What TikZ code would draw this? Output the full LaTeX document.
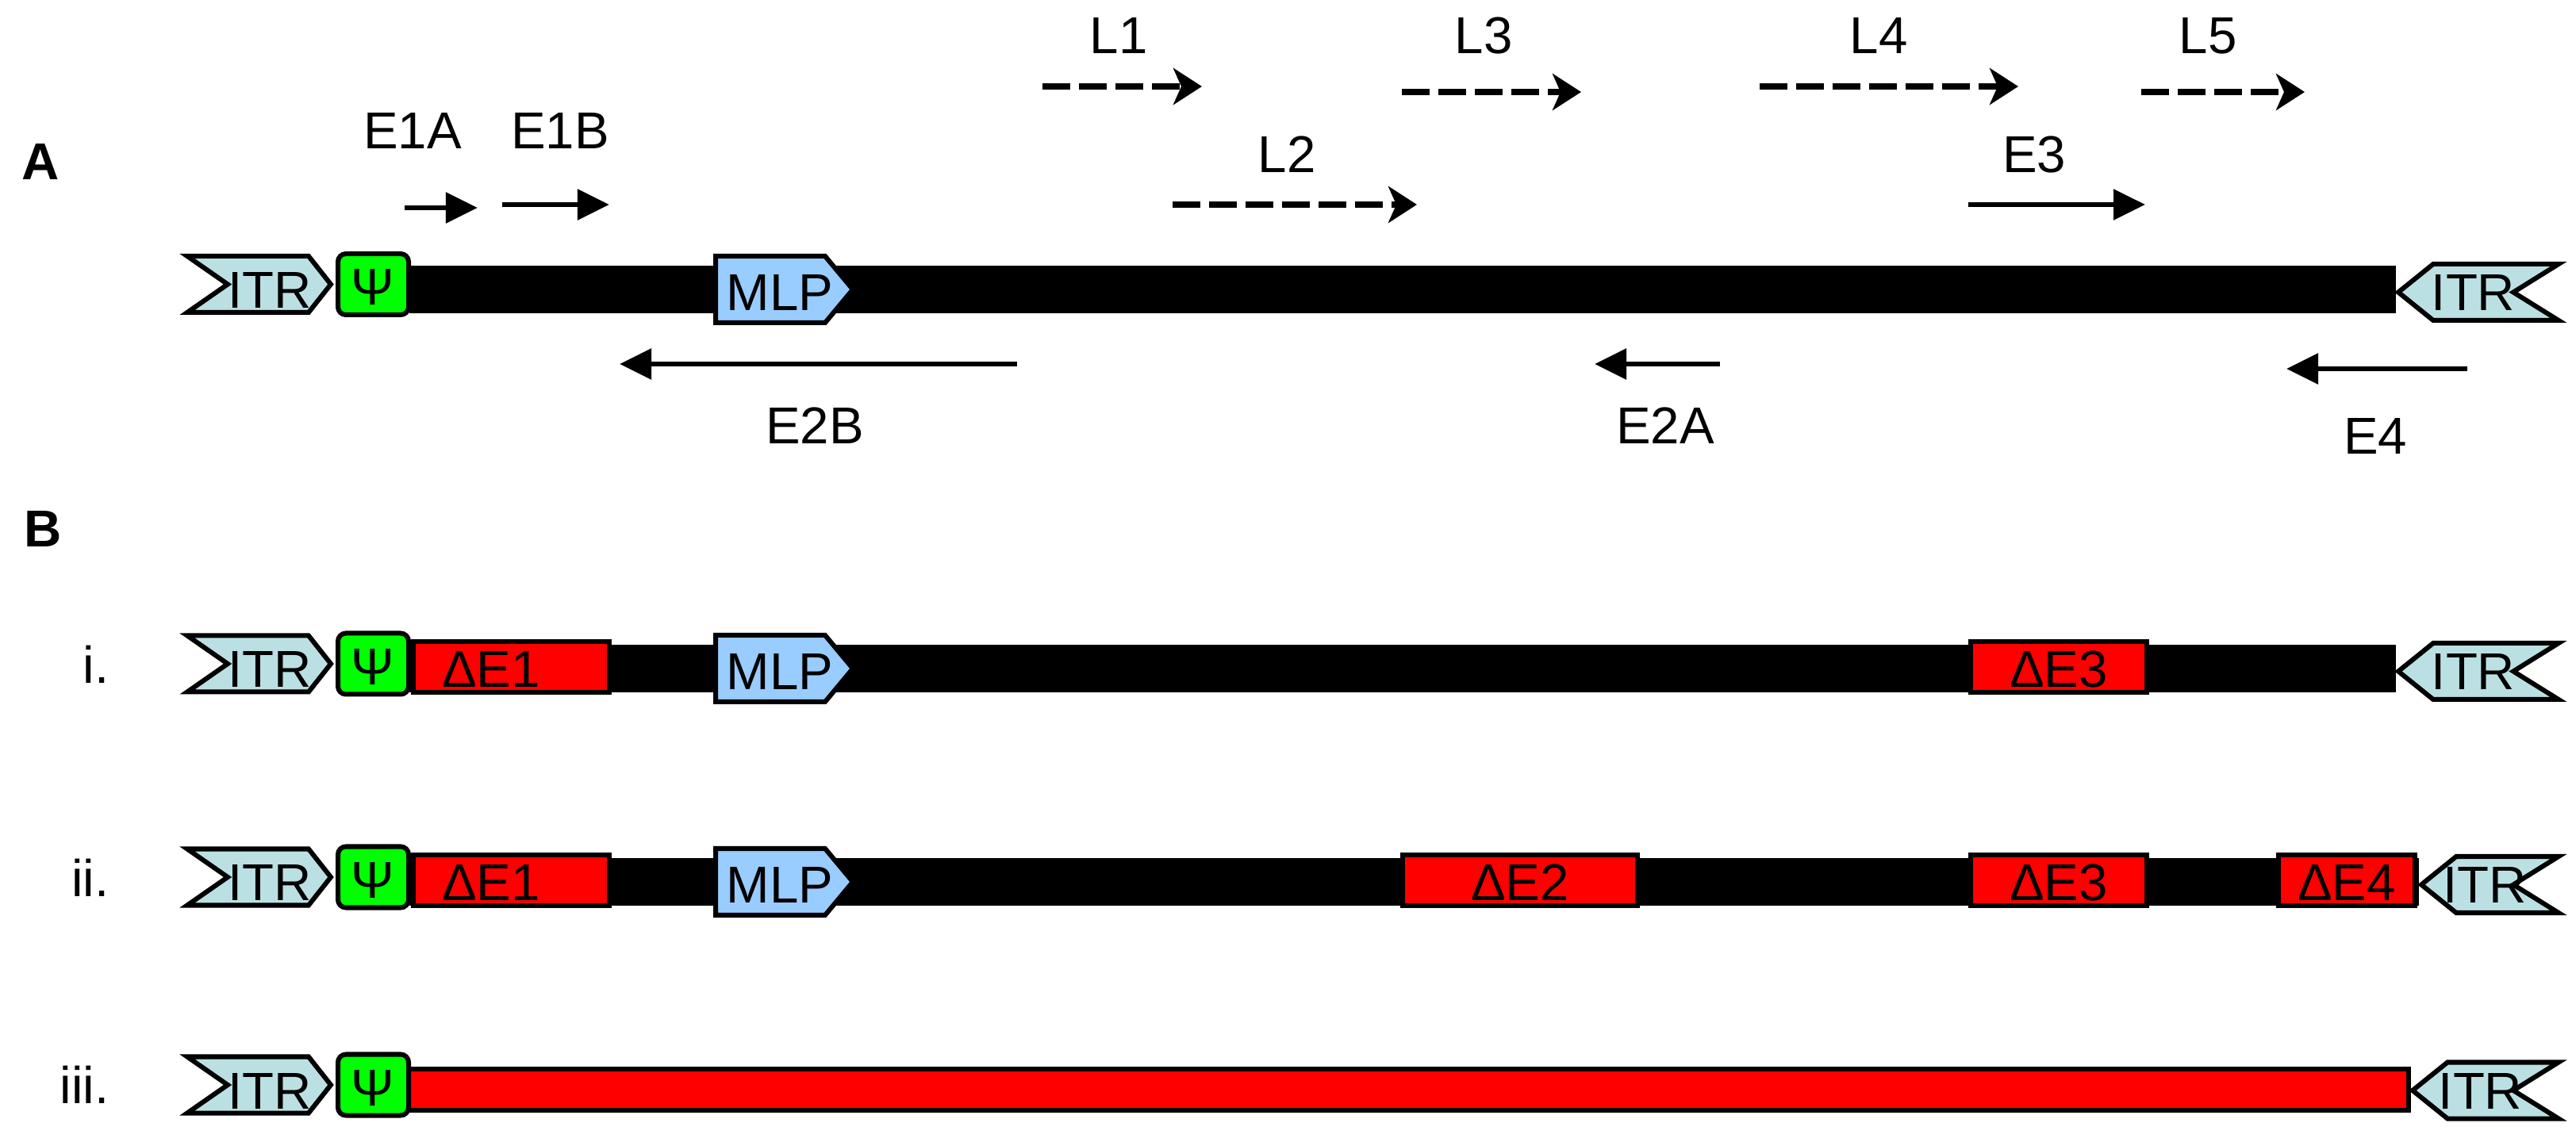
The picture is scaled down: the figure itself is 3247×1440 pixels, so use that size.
\documentclass[tikz,border=0pt]{standalone}
\usepackage{fontspec}
\setmainfont{Liberation Sans}
\usetikzlibrary{arrows.meta}
\definecolor{itrcol}{RGB}{187,224,227}
\definecolor{mlpcol}{RGB}{153,204,255}
\definecolor{psicol}{RGB}{0,255,0}
\definecolor{delcol}{RGB}{255,0,0}
\tikzset{
  txt/.style={inner sep=0pt, anchor=base, font=\fontsize{18.6pt}{22pt}\selectfont},
  outl/.style={draw=black, line width=0.06cm},
  solidarr/.style={line width=0.06cm, -{Triangle[length=0.40cm,width=0.38cm]}},
  dasharr/.style={line width=0.075cm, dash pattern=on 0.35cm off 0.11cm, -{Stealth[length=0.36cm,width=0.46cm,inset=0.1cm]}},
}
% left ITR: name, centre y
\newcommand{\ItrLeft}[2]{%
  \draw[outl, fill=itrcol] (236,#2-35.5) -- (389,#2-35.5) -- (417,#2) -- (389,#2+35.5) -- (236,#2+35.5) -- (287,#2) -- cycle;
  \node[txt] (#1) at (340,#2+30) {ITR};
}
% right ITR: name, tip x, centre y
\newcommand{\ItrRight}[3]{%
  \draw[outl, fill=itrcol] (#2+5,#3) -- (#2+49,#3-35.5) -- (3225,#3-35.5) -- (3168,#3) -- (3225,#3+35.5) -- (#2+49,#3+35.5) -- cycle;
  \node[txt] (#1) at ({(#2+49+3168)/2},#3+23.5) {ITR};
}
% packaging signal: name, centre y
\newcommand{\PsiBox}[2]{%
  \draw[outl, fill=psicol, rounded corners=0.1cm] (426,#2-38.5) rectangle (515,#2+38.5);
  \node[txt] (#1) at (470,#2+26.5) {Ψ};
}
% MLP: name, bar centre y
\newcommand{\MlpBox}[2]{%
  \draw[outl, fill=mlpcol] (902,#2-42) -- (1040,#2-42) -- (1075,#2) -- (1040,#2+42) -- (902,#2+42) -- cycle;
  \node[txt] (#1) at (983,#2+27) {MLP};
}
% deletion box: name, x1, x2, bar centre y, text x, text
\newcommand{\DelBox}[6]{%
  \draw[outl, fill=delcol] (#2+3,#4-34) rectangle (#3-3,#4+30);
  \node[txt] (#1) at (#5,#4+24) {#6};
}
\begin{document}
\begin{tikzpicture}[x=0.01cm,y=-0.01cm]
\useasboundingbox (0,0) rectangle (3247,1440);

% panel labels
\node[txt, anchor=base west, font=\fontsize{18.6pt}{22pt}\selectfont\bfseries] (pA) at (27,227) {A};
\node[txt, anchor=base west, font=\fontsize{18.6pt}{22pt}\selectfont\bfseries] (pB) at (30,690) {B};
\node[txt, anchor=base east] (ri) at (138,862) {i.};
\node[txt, anchor=base east] (rii) at (138,1131) {ii.};
\node[txt, anchor=base east] (riii) at (138,1391) {iii.};

% ---------- row A ----------
\fill[black] (516,335) rectangle (3020,395);
\ItrLeft{itrA1}{358.5}
\PsiBox{psiA}{358.5}
\MlpBox{mlpA}{365}
\ItrRight{itrA2}{3018}{368.5}

% transcript arrows
\coordinate (e1as) at (510,262);  \coordinate (e1ae) at (602,262);
\coordinate (e1bs) at (633,258);  \coordinate (e1be) at (768,258);
\coordinate (l1s) at (1314,109);  \coordinate (l1e) at (1515,109);
\coordinate (l3s) at (1767,116);  \coordinate (l3e) at (1993,116);
\coordinate (l4s) at (2218,109);  \coordinate (l4e) at (2544,109);
\coordinate (l5s) at (2699,116);  \coordinate (l5e) at (2905,116);
\coordinate (l2s) at (1478,258);  \coordinate (l2e) at (1786,258);
\coordinate (e3s) at (2481,258);  \coordinate (e3e) at (2704,258);
\coordinate (e2bs) at (1282,459); \coordinate (e2be) at (781,459);
\coordinate (e2as) at (2168,459); \coordinate (e2ae) at (2010,459);
\coordinate (e4s) at (3110,465);  \coordinate (e4e) at (2882,465);

\draw[solidarr] (e1as) -- (e1ae);
\draw[solidarr] (e1bs) -- (e1be);
\draw[dasharr] (l1s) -- (l1e);
\draw[dasharr] (l3s) -- (l3e);
\draw[dasharr] (l4s) -- (l4e);
\draw[dasharr] (l5s) -- (l5e);
\draw[dasharr] (l2s) -- (l2e);
\draw[solidarr] (e3s) -- (e3e);
\draw[solidarr] (e2bs) -- (e2be);
\draw[solidarr] (e2as) -- (e2ae);
\draw[solidarr] (e4s) -- (e4e);

\node[txt] (tE1A) at (520,188) {E1A};
\node[txt] (tE1B) at (706,188) {E1B};
\node[txt] (tL1) at (1410,68) {L1};
\node[txt] (tL3) at (1870,68) {L3};
\node[txt] (tL4) at (2368,68) {L4};
\node[txt] (tL5) at (2783,68) {L5};
\node[txt] (tL2) at (1622,218) {L2};
\node[txt] (tE3) at (2564,218) {E3};
\node[txt] (tE2B) at (1027,560) {E2B};
\node[txt] (tE2A) at (2099,560) {E2A};
\node[txt] (tE4) at (2994,573) {E4};

% ---------- row i ----------
\fill[black] (516,813) rectangle (3020,873);
\DelBox{dE1i}{518}{771}{843}{619}{ΔE1}
\DelBox{dE3i}{2481}{2709}{843}{2595}{ΔE3}
\ItrLeft{itri1}{837}
\PsiBox{psii}{837}
\MlpBox{mlpi}{843}
\ItrRight{itri2}{3018}{846.5}

% ---------- row ii ----------
\fill[black] (516,1082) rectangle (3049,1142);
\DelBox{dE1ii}{518}{771}{1112}{619}{ΔE1}
\DelBox{dE2ii}{1765}{2067}{1112}{1916}{ΔE2}
\DelBox{dE3ii}{2481}{2709}{1112}{2595}{ΔE3}
\DelBox{dE4ii}{2869}{3047}{1112}{2958}{ΔE4}
\ItrLeft{itrii1}{1106}
\PsiBox{psiii}{1106}
\MlpBox{mlpii}{1112}
\ItrRight{itrii2}{3047}{1115.5}

% ---------- row iii ----------
\draw[outl, fill=delcol] (510,1348) rectangle (3036,1400);
\ItrLeft{itriii1}{1368}
\PsiBox{psiiii}{1368}
\ItrRight{itriii2}{3036}{1375}
\end{tikzpicture}
\end{document}
